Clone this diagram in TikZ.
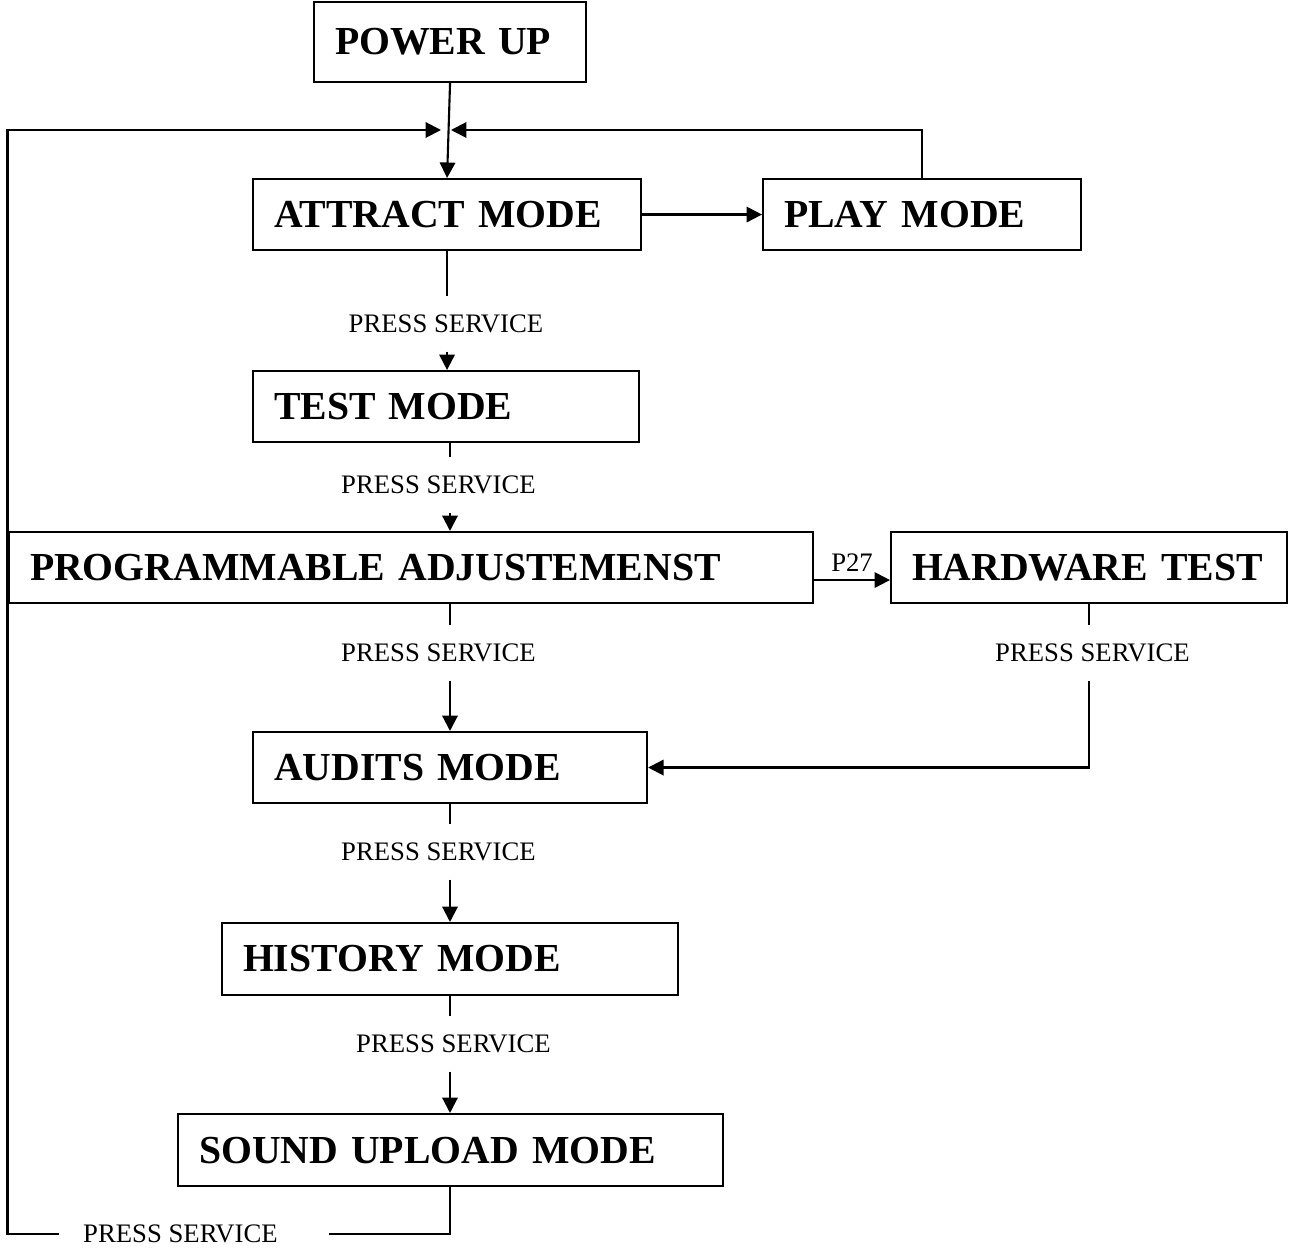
\documentclass[tikz,border=0pt]{standalone}
\usepackage{fontspec}
\setmainfont{Liberation Serif}
\usetikzlibrary{arrows.meta}

\begin{document}
\begin{tikzpicture}[x=1cm, y=-1cm, line width=0.6pt,
    >={Triangle[length=4.4pt, width=4.4pt]},
    box/.style={draw, anchor=north west, inner xsep=0.21cm, align=left,
      minimum height=0.71cm, font=\fontsize{11.3}{13}\selectfont\bfseries},
    lbl/.style={inner xsep=2pt, inner ysep=5pt, font=\fontsize{7.6}{9}\selectfont}]
    \useasboundingbox (0,0) rectangle (12.92,12.48);

    % Mode boxes
    \node[box, text width=2.30cm, minimum height=0.80cm] (pwr) at (3.13,0.01) {POWER UP};
    \node[box, text width=3.46cm] (att) at (2.52,1.78) {ATTRACT MODE};
    \node[box, text width=2.76cm] (ply) at (7.62,1.78) {PLAY MODE};
    \node[box, text width=3.44cm] (tst) at (2.52,3.70) {TEST MODE};
    \node[box, text width=7.62cm] (prg) at (0.08,5.31) {PROGRAMMABLE ADJUSTEMENST};
    \node[box, text width=3.54cm] (hw) at (8.90,5.31) {HARDWARE TEST};
    \node[box, text width=3.52cm] (aud) at (2.52,7.31) {AUDITS MODE};
    \node[box, text width=4.14cm, minimum height=0.72cm] (his) at (2.21,9.22) {HISTORY MODE};
    \node[box, text width=5.03cm, minimum height=0.72cm] (snd) at (1.77,11.13) {SOUND UPLOAD MODE};

    % Key labels
    \node[lbl] (l1) at (4.46,3.24) {PRESS SERVICE};
    \node[lbl] (l2) at (4.385,4.85) {PRESS SERVICE};
    \node[lbl] (l3) at (4.385,6.53) {PRESS SERVICE};
    \node[lbl] (l4) at (10.925,6.53) {PRESS SERVICE};
    \node[lbl] (l5) at (4.385,8.52) {PRESS SERVICE};
    \node[lbl] (l6) at (4.535,10.44) {PRESS SERVICE};
    \node[lbl, inner xsep=6.5pt] (l7) at (1.805,12.34) {PRESS SERVICE};

    \coordinate (spine) at (4.50,0);
    \coordinate (joinL) at (4.41,1.30);
    \coordinate (joinR) at (4.51,1.30);

    % Main chain
    \draw[->] (pwr.south) -- (att.north);
    \draw[->] (att.east) -- (ply.west);
    \draw (att.south) -- (l1.north -| att.south);
    \draw[->] (l1.south -| att.south) -- (att.south |- tst.north);
    \draw (tst.south -| spine) -- (l2.north -| spine);
    \draw[->] (l2.south -| spine) -- (prg.north -| spine);
    \draw (prg.south -| spine) -- (l3.north -| spine);
    \draw[->] (l3.south -| spine) -- (aud.north -| spine);
    \draw (aud.south -| spine) -- (l5.north -| spine);
    \draw[->] (l5.south -| spine) -- (his.north -| spine);
    \draw (his.south -| spine) -- (l6.north -| spine);
    \draw[->] (l6.south -| spine) -- (snd.north -| spine);

    % Hardware test branch
    \draw[->] ([yshift=-0.125cm]prg.east) -- ([yshift=-0.125cm]hw.west)
      node[lbl, midway, above, inner ysep=2pt] {P27};
    \draw (hw.south) -- (l4.north -| hw.south);
    \draw[->] (l4.south -| hw.south) |- (aud.east);

    % Return paths
    \draw[->] (ply.north) |- (joinR);
    \draw (snd.south -| spine) |- ([xshift=0.27cm]l7.east);
    \draw[->] (l7.west) -| (0.075,1.30) -- (joinL);
\end{tikzpicture}
\end{document}
